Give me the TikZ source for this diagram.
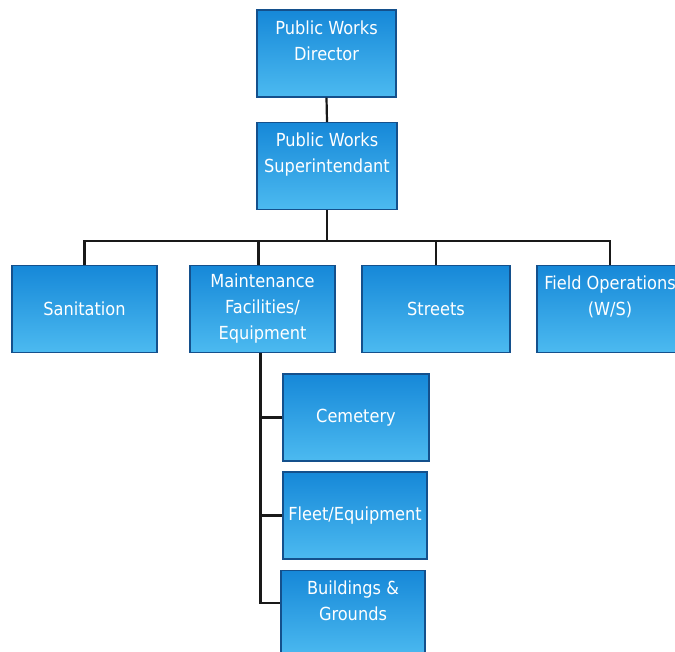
\documentclass[tikz,border=0pt]{standalone}
\usepackage{fontspec}
\setmainfont{DejaVu Sans Condensed}
\usepackage{tikz}
\usetikzlibrary{positioning,calc}

\definecolor{boxtop}{RGB}{22,136,216}
\definecolor{boxbot}{RGB}{76,186,240}
\definecolor{boxline}{RGB}{20,80,140}
\definecolor{linkcol}{RGB}{25,25,25}

\begin{document}
\begin{tikzpicture}[x=1pt, y=-1pt,
    unit/.style={draw=boxline, line width=1.3pt, top color=boxtop, bottom color=boxbot,
      text=white, font=\fontsize{18}{26}\selectfont, align=center,
      minimum width=145pt, minimum height=87pt, inner sep=1pt},
    link/.style={draw=linkcol, line width=2.2pt}]
  \useasboundingbox (0,0) rectangle (675,651);
  \clip (0,0) rectangle (675,651);

  % top of the chart
  \node[unit, minimum width=139pt] (dir) at (326.5,53.5) {Public Works\\Director\\\mbox{}};
  \node[unit, minimum width=140pt] (sup) at (327,166) {Public Works\\Superintendant\\\mbox{}};

  % divisions
  \node[unit] (san) at (84.5,309) {Sanitation};
  \node[unit] (mnt) at (262.5,309) {Maintenance\\Facilities/\\Equipment};
  \node[unit, minimum width=148pt] (str) at (436,309) {Streets};
  \node[unit, minimum width=146pt] (fld) at (610,309) {Field Operations\\(W/S)\\\mbox{}};

  % under maintenance
  \node[unit, minimum width=146pt] (cem) at (356,417.5) {Cemetery};
  \node[unit, minimum width=144pt] (flt) at (355,515.5) {Fleet/Equipment};
  \node[unit, minimum width=144pt] (bld) at (353,614) {Buildings \&\\Grounds\\\mbox{}};

  % links
  \draw[link] (dir.south) -- (sup.north);
  \draw[link] (sup.south) -- ++(0,31) coordinate (bar);
  \draw[link] (bar) -| (san.north);
  \draw[link] (bar) -| ([xshift=-4pt]mnt.north);
  \draw[link] (bar) -| (str.north);
  \draw[link] (bar) -| (fld.north);

  \draw[link] ([xshift=-2pt]mnt.south) |- (cem.west);
  \draw[link] ([xshift=-2pt]mnt.south) |- (flt.west);
  \draw[link] ([xshift=-2pt]mnt.south) |- ([yshift=11pt]bld.west);
\end{tikzpicture}
\end{document}
